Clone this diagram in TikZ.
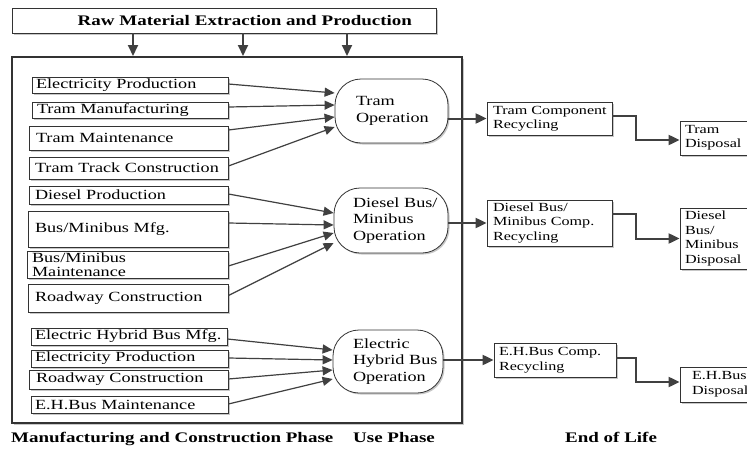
\documentclass[tikz,border=0pt]{standalone}
\usepackage{fontspec}
\setmainfont[FakeStretch=1.3]{Liberation Serif}
\usetikzlibrary{arrows.meta,shadows}
\definecolor{linec}{HTML}{333333}
\definecolor{arrc}{HTML}{404040}
\begin{document}
\begin{tikzpicture}[x=1pt,y=-1pt,
  shad/.style={drop shadow={shadow xshift=1.5pt,shadow yshift=-1.5pt,fill=black,opacity=0.22}},
  lbox/.style={draw=linec,line width=0.8pt,fill=white,shad,align=left,inner ysep=0pt,
    font=\fontsize{14}{16.5}\selectfont},
  rbox/.style={lbox,font=\fontsize{12.4}{14.5}\selectfont},
  opbox/.style={lbox,rounded corners=26pt},
  thinarrow/.style={draw=arrc,line width=1.2pt,-{Triangle[length=10pt,width=9pt]}},
  thickarrow/.style={draw=arrc,line width=2pt,-{Triangle[length=11pt,width=10pt]}},
  lab/.style={font=\bfseries\fontsize{14.6}{16}\selectfont,inner sep=0pt,anchor=base west}
]
\clip (0,0) rectangle (747,450);
\fill[white] (0,0) rectangle (747,450);

% top box and phase frame
\node[lbox, text width=376, inner xsep=24, minimum height=25, align=right,
      font=\bfseries\fontsize{14.6}{16}\selectfont] (raw) at (224,20.5)
      {Raw Material Extraction and Production};
\node[draw=linec, line width=2pt, shad, fill=white, minimum width=450, minimum height=366, inner sep=0pt]
      (phase) at (237,240) {};

% tram inputs
\node[lbox, text width=188, inner xsep=4, minimum height=16] (e1) at (130,85) {\mbox{Electricity Production}};
\node[lbox, text width=186, inner xsep=5, minimum height=16] (tm) at (130,110) {\mbox{Tram Manufacturing}};
\node[lbox, text width=185, inner xsep=7, minimum height=24] (tmt) at (128.5,138) {\mbox{Tram Maintenance}};
\node[lbox, text width=187, inner xsep=6, minimum height=22] (ttc) at (128.5,168) {\mbox{Tram Track Construction}};

% diesel inputs
\node[lbox, text width=187, inner xsep=6, minimum height=18] (dp) at (128.5,195) {\mbox{Diesel Production}};
\node[lbox, text width=186, inner xsep=7, minimum height=36] (bm) at (128,229) {\mbox{Bus/Minibus Mfg.}};
\node[lbox, text width=191, inner xsep=5, minimum height=27, font=\fontsize{14}{14}\selectfont] (bmm) at (127.5,264.5)
      {\mbox{Bus/Minibus}\\\mbox{Maintenance}};
\node[lbox, text width=186, inner xsep=7, minimum height=28] (rc1) at (128,298) {\mbox{Roadway Construction}};

% EH inputs
\node[lbox, text width=188, inner xsep=4, minimum height=17] (ehm) at (129,336.5) {\mbox{Electric Hybrid Bus Mfg.}};
\node[lbox, text width=189, inner xsep=4, minimum height=17] (ep2) at (129.5,358.5) {\mbox{Electricity Production}};
\node[lbox, text width=185, inner xsep=7, minimum height=19] (rc2) at (128.5,379.5) {\mbox{Roadway Construction}};
\node[lbox, text width=189, inner xsep=4, minimum height=17] (ehmt) at (129.5,404.5) {\mbox{E.H.Bus Maintenance}};

% operations
\node[opbox, text width=71, inner xsep=21, minimum height=64] (op1) at (391.5,111)
      {\mbox{Tram}\\\mbox{Operation}};
\node[opbox, text width=76, inner xsep=19, minimum height=65] (op2) at (391,220.5)
      {\mbox{Diesel Bus/}\\\mbox{Minibus}\\\mbox{Operation}};
\node[opbox, text width=70, inner xsep=20, minimum height=63] (op3) at (388,361.5)
      {\mbox{Electric}\\\mbox{Hybrid Bus}\\\mbox{Operation}};

% end of life
\node[rbox, text width=113, inner xsep=6, minimum height=33] (r1) at (549.5,118.5)
      {\mbox{Tram Component}\\\mbox{Recycling}};
\node[rbox, text width=113, inner xsep=6, minimum height=46] (r2) at (549.5,223)
      {\mbox{Diesel Bus/}\\\mbox{Minibus Comp.}\\\mbox{Recycling}};
\node[rbox, text width=112, inner xsep=5, minimum height=34] (r3) at (555,360)
      {\mbox{E.H.Bus Comp.}\\\mbox{Recycling}};
\node[rbox, text width=62, inner xsep=5, minimum height=34] (d1) at (716,138)
      {\mbox{Tram}\\\mbox{Disposal}};
\node[rbox, text width=62, inner xsep=5, minimum height=61] (d2) at (716,238.5)
      {\mbox{Diesel}\\\mbox{Bus/}\\\mbox{Minibus}\\\mbox{Disposal}};
\node[rbox, text width=48, inner xsep=12, minimum height=35] (d3) at (716,384.5)
      {\mbox{E.H.Bus}\\\mbox{Disposal}};

% bottom labels
\node[lab] (l1) at (11,442) {Manufacturing and Construction Phase};
\node[lab] (l2) at (353,442) {Use Phase};
\node[lab] (l3) at (565,442) {End of Life};

% top arrows
\coordinate (a1) at (133,0);
\coordinate (a2) at (243,0);
\coordinate (a3) at (347,0);
\foreach \c in {a1,a2,a3}
  \draw[thickarrow] (raw.south -| \c) -- (phase.north -| \c);

% tram inputs
\draw[thinarrow] ([yshift=1]e1.east) -- ([yshift=18]op1.west);
\draw[thinarrow] ([yshift=3]tm.east) -- ([yshift=6]op1.west);
\draw[thinarrow] ([yshift=8]tmt.east) -- ([yshift=-6]op1.west);
\draw[thinarrow] ([yshift=2]ttc.east) -- ([yshift=-16]op1.west);

% diesel inputs
\draw[thinarrow] ([yshift=1]dp.east) -- ([yshift=7.5]op2.west);
\draw[thinarrow] ([yshift=6]bm.east) -- ([yshift=-4.5]op2.west);
\draw[thinarrow] ([yshift=-1.5]bmm.east) -- ([yshift=-12.5]op2.west);
\draw[thinarrow] ([yshift=2.5]rc1.east) -- ([yshift=-22.5]op2.west);

% EH inputs
\draw[thinarrow] ([yshift=-2.5]ehm.east) -- ([yshift=11.5]op3.west);
\draw[thinarrow] ([yshift=0.5]ep2.east) -- ([yshift=1.5]op3.west);
\draw[thinarrow] ([yshift=0.5]rc2.east) -- ([yshift=-8.5]op3.west);
\draw[thinarrow] ([yshift=0.5]ehmt.east) -- ([yshift=-17.5]op3.west);

% use phase to recycling
\draw[thickarrow] (op1.east |- r1.west) -- (r1.west);
\draw[thickarrow] (op2.east |- r2.west) -- (r2.west);
\draw[thickarrow] (op3.east |- r3.west) -- (r3.west);

% recycling to disposal
\draw[thickarrow] ([yshift=2.5]r1.east) -- ++(24,0) |- ([yshift=-2]d1.west);
\draw[thickarrow] ([yshift=9]r2.east) -- ++(24,0) |- (d2.west);
\draw[thickarrow] ([yshift=2]r3.east) -- ++(20,0) |- ([yshift=2.5]d3.west);
\end{tikzpicture}
\end{document}
